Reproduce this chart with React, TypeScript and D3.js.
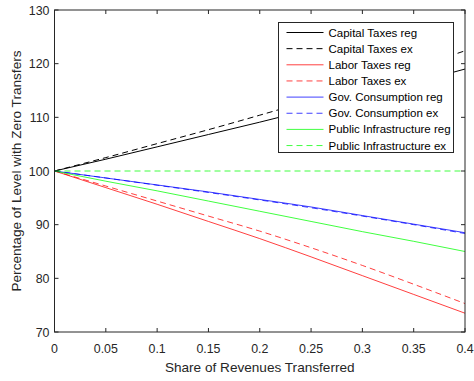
import React from "react";
import * as d3 from "d3";

const shares = [0, 0.05, 0.1, 0.15, 0.2, 0.25, 0.3, 0.35, 0.4];

const capitalReg = [100, 102.2, 104.5, 106.8, 109.1, 111.5, 113.9, 116.4, 119.0];
const capitalEx = [100, 102.5, 105.1, 107.7, 110.4, 113.2, 116.1, 119.2, 122.4];
const laborReg = [100, 96.9, 93.8, 90.6, 87.4, 84.0, 80.5, 77.0, 73.5];
const laborEx = [100, 97.2, 94.4, 91.6, 88.8, 85.7, 82.4, 78.9, 75.3];
const govReg = [100, 98.7, 97.4, 96.1, 94.7, 93.3, 91.7, 90.1, 88.5];
const govEx = [100, 98.7, 97.35, 96.0, 94.6, 93.15, 91.6, 90.0, 88.35];
const infraReg = [100, 98.1, 96.3, 94.4, 92.5, 90.6, 88.7, 86.9, 85.0];
const infraEx = [100, 100, 100, 100, 100, 100, 100, 100, 100];

const seriesNames = [
  "Capital Taxes reg",
  "Capital Taxes ex",
  "Labor Taxes reg",
  "Labor Taxes ex",
  "Gov. Consumption reg",
  "Gov. Consumption ex",
  "Public Infrastructure reg",
  "Public Infrastructure ex",
];
const seriesValues = [capitalReg, capitalEx, laborReg, laborEx, govReg, govEx, infraReg, infraEx];
const seriesColors = ["#000000", "#000000", "#ff0000", "#ff0000", "#0000ff", "#0000ff", "#00ff00", "#00ff00"];
const seriesDashed = [false, true, false, true, false, true, false, true];

const xTicks = [0, 0.05, 0.1, 0.15, 0.2, 0.25, 0.3, 0.35, 0.4];
const xTickLabels = ["0", "0.05", "0.1", "0.15", "0.2", "0.25", "0.3", "0.35", "0.4"];
const yTicks = [70, 80, 90, 100, 110, 120, 130];

const W = 474;
const H = 381;
const left = 54.5;
const right = 465;
const top = 10;
const bottom = 332;
const font = "'Liberation Sans', Arial, sans-serif";
const axisColor = "#262626";
const tickFs = 12.4;
const labelFs = 13.6;
const legendFs = 11.5;

export default function App() {
  const x = d3.scaleLinear().domain([0, 0.4]).range([left, right]);
  const y = d3.scaleLinear().domain([70, 130]).range([bottom, top]);
  const line = d3
    .line<number>()
    .x((_, i) => x(shares[i]))
    .y((d) => y(d))
    .curve(d3.curveMonotoneX);

  const legX = 278.5;
  const legY = 22.5;
  const legW = 175;
  const legH = 130;
  const rowH = 16.15;

  return (
    <svg
      width={W}
      height={H}
      style={{ position: "absolute", left: 0, top: 0, background: "#fff" }}
      fontFamily={font}
    >
      <rect x={0} y={0} width={W} height={H} fill="#fff" />
      {seriesValues.map((vals, i) => (
        <path
          key={seriesNames[i]}
          d={line(vals) ?? ""}
          fill="none"
          stroke={seriesColors[i]}
          strokeOpacity={seriesColors[i] === "#000000" ? 1 : 0.75}
          strokeWidth={1}
          strokeDasharray={seriesDashed[i] ? "6,4" : undefined}
        />
      ))}

      {/* box and ticks */}
      <rect x={left} y={top} width={right - left} height={bottom - top} fill="none" stroke={axisColor} strokeWidth={1} />
      {xTicks.map((t, i) => (
        <g key={"x" + t}>
          <line x1={x(t)} x2={x(t)} y1={bottom} y2={bottom - 4} stroke={axisColor} />
          <line x1={x(t)} x2={x(t)} y1={top} y2={top + 4} stroke={axisColor} />
          <text x={x(t)} y={bottom + 21} fontSize={tickFs} textAnchor="middle" fill={axisColor}>
            {xTickLabels[i]}
          </text>
        </g>
      ))}
      {yTicks.map((t) => (
        <g key={"y" + t}>
          <line x1={left} x2={left + 4} y1={y(t)} y2={y(t)} stroke={axisColor} />
          <line x1={right} x2={right - 4} y1={y(t)} y2={y(t)} stroke={axisColor} />
          <text x={left - 5} y={y(t) + 4.5} fontSize={tickFs} textAnchor="end" fill={axisColor}>
            {t}
          </text>
        </g>
      ))}

      <text x={(left + right) / 2} y={371.5} fontSize={labelFs} textAnchor="middle" fill={axisColor}>
        Share of Revenues Transferred
      </text>
      <text
        transform={`translate(20.5, ${(top + bottom) / 2}) rotate(-90)`}
        fontSize={labelFs}
        textAnchor="middle"
        fill={axisColor}
      >
        Percentage of Level with Zero Transfers
      </text>

      {/* legend */}
      <rect x={legX} y={legY} width={legW} height={legH} fill="#fff" stroke={axisColor} strokeWidth={1} />
      {seriesNames.map((name, i) => {
        const cy = legY + 10 + i * rowH;
        return (
          <g key={"leg" + name}>
            <line
              x1={legX + 8}
              x2={legX + 45}
              y1={cy}
              y2={cy}
              stroke={seriesColors[i]}
              strokeOpacity={seriesColors[i] === "#000000" ? 1 : 0.75}
              strokeDasharray={seriesDashed[i] ? "6,4" : undefined}
            />
            <text x={legX + 50} y={cy + 4} fontSize={legendFs} fill="#000">
              {name}
            </text>
          </g>
        );
      })}
    </svg>
  );
}
